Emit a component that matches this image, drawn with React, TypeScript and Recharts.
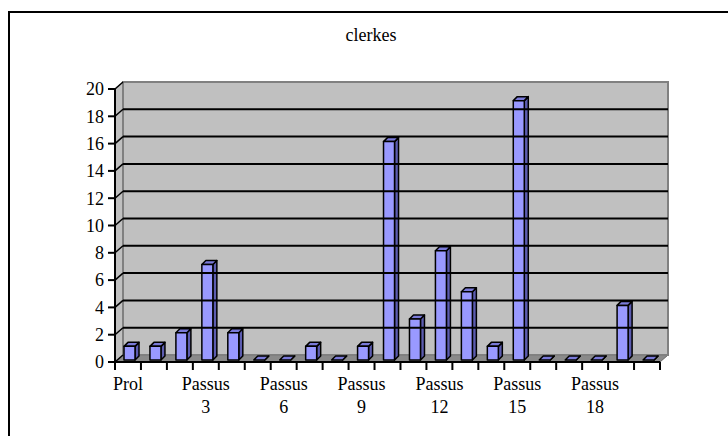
import { BarChart, Bar, XAxis, YAxis, ReferenceArea, ReferenceLine } from "recharts";

const categories = [
  "Prol", "Passus 1", "Passus 2", "Passus 3", "Passus 4", "Passus 5", "Passus 6",
  "Passus 7", "Passus 8", "Passus 9", "Passus 10", "Passus 11", "Passus 12", "Passus 13",
  "Passus 14", "Passus 15", "Passus 16", "Passus 17", "Passus 18", "Passus 19", "Passus 20",
];
const clerkes = [1, 1, 2, 7, 2, 0, 0, 1, 0, 1, 16, 3, 8, 5, 1, 19, 0, 0, 0, 4, 0];
const yTicks = [0, 2, 4, 6, 8, 10, 12, 14, 16, 18, 20];

const data = categories.map((name, i) => ({ name, clerkes: clerkes[i] }));

const FONT = "'Liberation Serif', 'Times New Roman', Times, serif";
const W = 718;
const H = 423;
const MARGIN = { top: 76, right: 68, left: 45, bottom: 24 };
const DX = 8; // wall depth
const DY = 7;
const BD = 4; // bar depth

// back wall, side wall, floor and the category boundary tick marks
function Wall(props: any) {
  const { x, y, width: w, height: h } = props;
  const n = categories.length;
  return (
    <g>
      <polygon
        points={`${x},${y + h} ${x + DX},${y + h - DY} ${x + w + DX},${y + h - DY} ${x + w},${y + h}`}
        fill="#8a8a8a"
        stroke="#666"
        strokeWidth={1}
      />
      <polygon
        points={`${x},${y} ${x + DX},${y - DY} ${x + DX},${y + h - DY} ${x},${y + h}`}
        fill="#c0c0c0"
        stroke="#808080"
        strokeWidth={1}
      />
      <rect x={x + DX} y={y - DY} width={w} height={h} fill="#c0c0c0" stroke="#808080" strokeWidth={2} />
      {Array.from({ length: n + 1 }, (_, k) => (
        <rect key={k} x={x + (k * w) / n - 1} y={y + h} width={2} height={8} fill="#000" />
      ))}
    </g>
  );
}

function GridLine(props: any) {
  const { x1, y1, x2, value } = props;
  const edge = value === 20 || value === 0;
  return (
    <g>
      <line x1={x1} y1={y1} x2={x1 + DX} y2={y1 - DY} stroke="#000" strokeWidth={1.5} />
      {!edge && <line x1={x1 + DX} y1={y1 - DY} x2={x2 + DX} y2={y1 - DY} stroke="#000" strokeWidth={2} />}
    </g>
  );
}

function Bar3D(props: any) {
  const { x: x0, y: y0, width: w, height: h } = props;
  const x = x0 + 2;
  const y = y0 - 2;
  return (
    <g stroke="#000" strokeWidth={1.5} strokeLinejoin="round">
      <polygon points={`${x + w},${y} ${x + w + BD},${y - BD} ${x + w + BD},${y + h - BD} ${x + w},${y + h}`} fill="#5c5cb0" />
      <polygon points={`${x},${y} ${x + BD},${y - BD} ${x + w + BD},${y - BD} ${x + w},${y}`} fill="#7a7ad8" />
      {h > 0 && <rect x={x} y={y} width={w} height={h} fill="#9999ff" />}
    </g>
  );
}

function CatTick(props: any) {
  const { x, y, payload, index } = props;
  if (index % 3 !== 0) return <g />;
  const parts = String(payload.value).split(" ");
  return (
    <text textAnchor="middle" style={{ fontFamily: FONT }} fontSize={18} fill="#000">
      {parts.map((p, i) => (
        <tspan key={i} x={x} y={y + 28 + i * 23}>
          {p}
        </tspan>
      ))}
    </text>
  );
}

export default function App() {
  return (
    <div
      style={{
        position: "absolute",
        left: 8,
        top: 11,
        width: 720,
        height: 425,
        boxSizing: "border-box",
        borderLeft: "2px solid #000",
        borderTop: "2px solid #000",
        background: "#fff",
        fontFamily: FONT,
      }}
    >
      <div
        style={{
          position: "absolute",
          left: 0,
          top: 12,
          width: 722,
          textAlign: "center",
          fontFamily: FONT,
          fontSize: 18,
          lineHeight: "20px",
        }}
      >
        clerkes
      </div>
      <BarChart width={W} height={H} data={data} margin={MARGIN} barSize={11} style={{ fontFamily: FONT }}>
        <ReferenceArea y1={0} y2={20} ifOverflow="extendDomain" shape={<Wall />} />
        {yTicks.map((v) => (
          <ReferenceLine key={v} y={v} shape={(p: any) => <GridLine {...p} value={v} />} />
        ))}
        <XAxis
          dataKey="name"
          interval={0}
          tickLine={false}
          tickSize={0}
          tickMargin={0}
          height={50}
          axisLine={{ stroke: "#000", strokeWidth: 2 }}
          tick={<CatTick />}
        />
        <YAxis
          width={60}
          domain={[0, 20]}
          ticks={yTicks}
          interval={0}
          tickSize={7}
          tickMargin={4}
          tickLine={{ stroke: "#000", strokeWidth: 2 }}
          axisLine={{ stroke: "#000", strokeWidth: 2 }}
          tick={{ fontFamily: FONT, fontSize: 18, fill: "#000" }}
        />
        <Bar dataKey="clerkes" isAnimationActive={false} shape={<Bar3D />} />
      </BarChart>
    </div>
  );
}
